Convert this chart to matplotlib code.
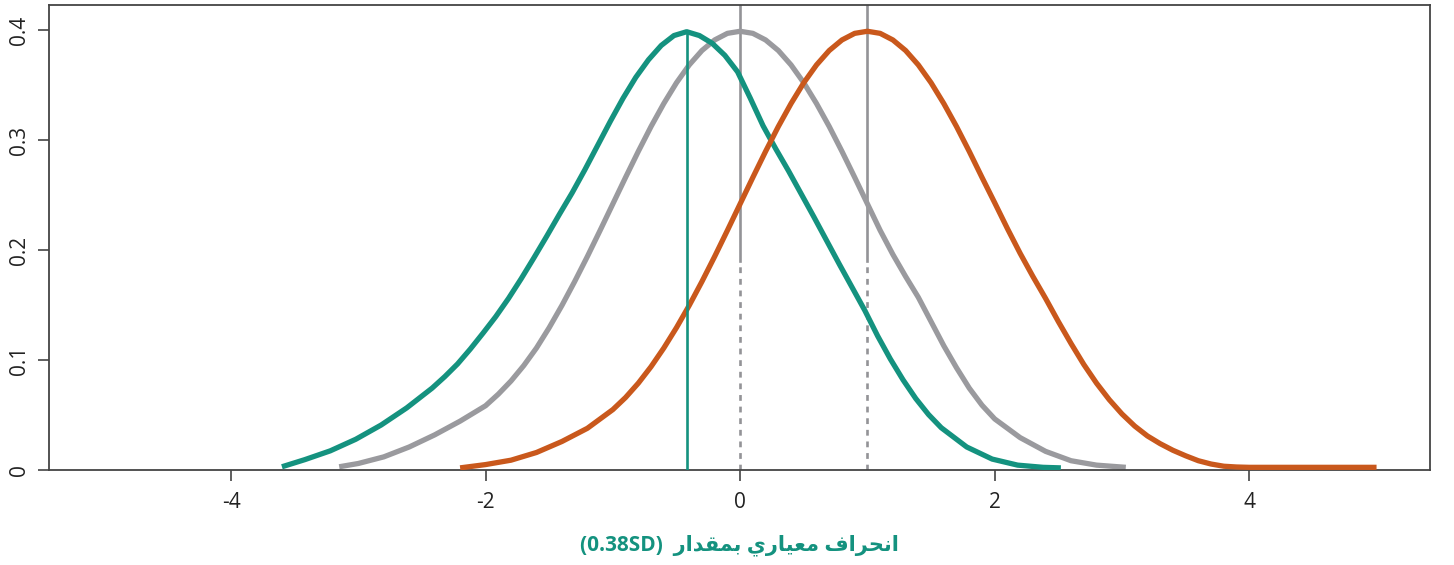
import matplotlib.pyplot as plt

# density curves
gray_x = [-3.15, -3.0, -2.8, -2.6, -2.4, -2.2, -2.0, -1.9, -1.8, -1.7, -1.6, -1.5, -1.4, -1.3, -1.2, -1.1,
          -1.0, -0.9, -0.8, -0.7, -0.6, -0.5, -0.4, -0.3, -0.2, -0.1, 0.0, 0.1, 0.2, 0.3, 0.4, 0.5,
          0.6, 0.7, 0.8, 0.9, 1.0, 1.1, 1.2, 1.3, 1.4, 1.5, 1.6, 1.7, 1.8, 1.9, 2.0, 2.2, 2.4, 2.6,
          2.8, 3.03]
gray_y = [0.0030, 0.0060, 0.0120, 0.0210, 0.0320, 0.0445, 0.0585, 0.0690, 0.0810, 0.0950, 0.1110, 0.1295,
          0.1497, 0.1714, 0.1942, 0.2179, 0.2420, 0.2661, 0.2897, 0.3123, 0.3332, 0.3521, 0.3683, 0.3814,
          0.3910, 0.3970, 0.3989, 0.3970, 0.3910, 0.3814, 0.3683, 0.3521, 0.3332, 0.3123, 0.2897, 0.2661,
          0.2420, 0.2179, 0.1960, 0.1760, 0.1570, 0.1350, 0.1130, 0.0930, 0.0745, 0.0590, 0.0465, 0.0295,
          0.0170, 0.0085, 0.0045, 0.0025]

teal_x = [-3.60, -3.42, -3.22, -3.02, -2.82, -2.62, -2.42, -2.32, -2.22, -2.12, -2.02, -1.92, -1.82, -1.72,
          -1.62, -1.52, -1.42, -1.32, -1.22, -1.12, -1.02, -0.92, -0.82, -0.72, -0.62, -0.52, -0.42, -0.32,
          -0.22, -0.12, -0.02, 0.08, 0.18, 0.28, 0.38, 0.48, 0.58, 0.68, 0.78, 0.88, 0.98, 1.08, 1.18,
          1.28, 1.38, 1.48, 1.58, 1.78, 1.98, 2.18, 2.38, 2.52]
teal_y = [0.0030, 0.0095, 0.0175, 0.0280, 0.0410, 0.0565, 0.0745, 0.0850, 0.0965, 0.1100, 0.1245, 0.1395,
          0.1560, 0.1740, 0.1930, 0.2125, 0.2325, 0.2520, 0.2730, 0.2950, 0.3170, 0.3380, 0.3570, 0.3730,
          0.3860, 0.3950, 0.3985, 0.3950, 0.3880, 0.3770, 0.3620, 0.3380, 0.3130, 0.2920, 0.2720, 0.2510,
          0.2300, 0.2085, 0.1870, 0.1660, 0.1450, 0.1220, 0.1010, 0.0820, 0.0650, 0.0505, 0.0385, 0.0210,
          0.0100, 0.0045, 0.0025, 0.0020]

orange_x = [-2.2, -2.0, -1.8, -1.6, -1.4, -1.2, -1.0, -0.9, -0.8, -0.7, -0.6, -0.5, -0.4, -0.3, -0.2, -0.1,
            0.0, 0.1, 0.2, 0.3, 0.4, 0.5, 0.6, 0.7, 0.8, 0.9, 1.0, 1.1, 1.2, 1.3, 1.4, 1.5,
            1.6, 1.7, 1.8, 1.9, 2.0, 2.1, 2.2, 2.3, 2.4, 2.5, 2.6, 2.7, 2.8, 2.9, 3.0, 3.1, 3.2, 3.3,
            3.4, 3.5, 3.6, 3.7, 3.8, 3.9, 4.0, 4.5, 5.0]
orange_y = [0.0020, 0.0050, 0.0090, 0.0160, 0.0260, 0.0380, 0.0550, 0.0660, 0.0790, 0.0940, 0.1109, 0.1295,
            0.1497, 0.1714, 0.1942, 0.2179, 0.2420, 0.2661, 0.2897, 0.3123, 0.3332, 0.3521, 0.3683, 0.3814,
            0.3910, 0.3970, 0.3989, 0.3970, 0.3910, 0.3814, 0.3683, 0.3521, 0.3332, 0.3123, 0.2897, 0.2661,
            0.2430, 0.2195, 0.1970, 0.1760, 0.1560, 0.1350, 0.1150, 0.0960, 0.0790, 0.0640, 0.0510, 0.0400,
            0.0310, 0.0240, 0.0180, 0.0130, 0.0085, 0.0055, 0.0035, 0.0028, 0.0025, 0.0025, 0.0025]

teal_mean = -0.42
ref_means = [0.0, 1.0]
split_y = 0.19
peak_y = 0.3985

x_ticks = [-4, -2, 0, 2, 4]
y_ticks = [0, 0.1, 0.2, 0.3, 0.4]
y_labels = ['0', '0.1', '0.2', '0.3', '0.4']

# Arabic label, shaped by hand into presentation forms (visual order)
w1 = '\uFED1\uFE8D\uFEAE\uFEA4\uFEE7\uFE8D'   # انحراف
w2 = '\uFEF1\uFEAD\uFE8E\uFEF4\uFECC\uFEE3'   # معياري
w3 = '\uFEAD\uFE8D\uFEAA\uFED8\uFEE4\uFE91'   # بمقدار
xlabel = '(0.38SD)  ' + w3 + ' ' + w2 + ' ' + w1

TEAL = '#14927f'
ORANGE = '#c9581c'
GRAY = '#9a9a9e'
VGRAY = '#939397'

plt.rcParams['font.family'] = ['Open Sans', 'DejaVu Sans']

fig = plt.figure(figsize=(14.54, 5.65), dpi=100)
ax = fig.add_axes([0.0337, 0.168, 0.9498, 0.823])

# reference lines
for m in ref_means:
    ax.plot([m, m], [split_y, 0.43], color=VGRAY, lw=1.9, zorder=1)
    ax.plot([m, m], [0, split_y], color=VGRAY, lw=1.9, ls=(0, (2.2, 2.2)), zorder=1)

style = dict(lw=3.8, solid_capstyle='butt', solid_joinstyle='round')
ax.plot(gray_x, gray_y, color=GRAY, zorder=2, **style)
ax.plot(teal_x, teal_y, color=TEAL, zorder=3, **style)
ax.plot(orange_x, orange_y, color=ORANGE, zorder=3, **style)
ax.plot([teal_mean, teal_mean], [0, peak_y], color=TEAL, lw=1.9, zorder=4)

ax.set_xlim(-5.43, 5.42)
ax.set_ylim(0, 0.4227)
ax.set_xticks(x_ticks)
ax.set_xticklabels([str(t) for t in x_ticks])
ax.set_yticks(y_ticks)
ax.set_yticklabels(y_labels, rotation=90, va='center')
ax.tick_params(axis='both', length=8, width=1.2, color='#444444', labelsize=15, labelcolor='#222222')
ax.tick_params(axis='x', pad=8)
ax.tick_params(axis='y', pad=6)
for s in ax.spines.values():
    s.set_color('#444444')
    s.set_linewidth(1.3)

ax.set_xlabel(xlabel, color=TEAL, fontsize=15, fontweight='bold', labelpad=15)

plt.savefig('out.png', dpi=100)
